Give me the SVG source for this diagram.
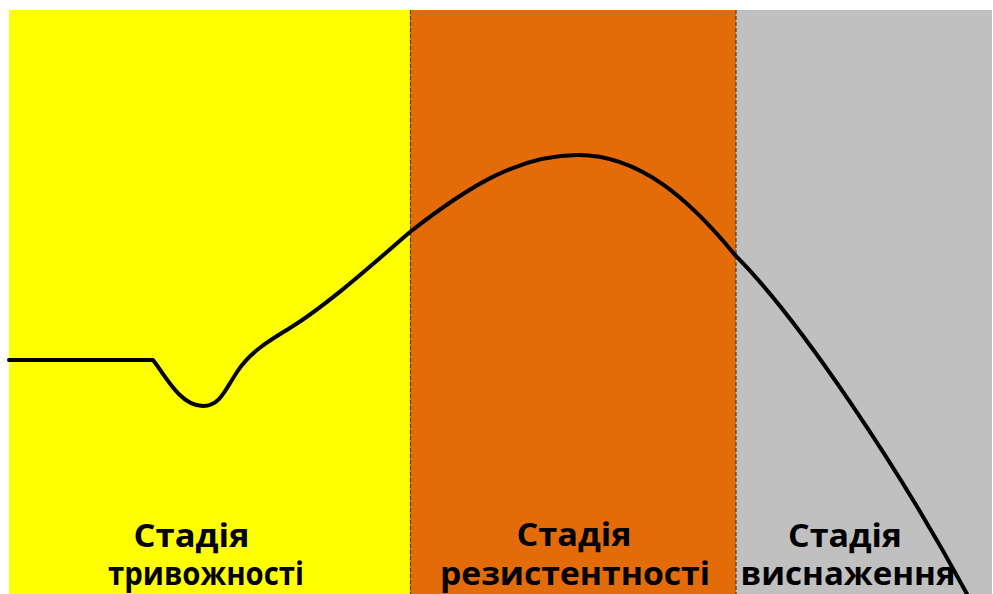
<svg xmlns="http://www.w3.org/2000/svg" width="993" height="594" viewBox="0 0 993 594">
<style>
.lbl{font-family:"Open Sans","DejaVu Sans",sans-serif;font-weight:bold;font-size:32px;fill:#000;text-anchor:middle}
.sep{stroke:#5a3a1a;stroke-width:1.2;stroke-dasharray:4 2;fill:none}
.curve{fill:none;stroke:#000;stroke-width:4;stroke-linejoin:round;stroke-linecap:round}
</style>
<rect width="993" height="594" fill="#fff"/>
<g id="stage-alarm">
<rect x="9" y="10" width="401" height="584" fill="#ffff00"/>
<text class="lbl" x="191.5" y="547" textLength="116" lengthAdjust="spacingAndGlyphs">Стадія</text>
<text class="lbl" x="206" y="585" textLength="196" lengthAdjust="spacingAndGlyphs">тривожності</text>
</g>
<g id="stage-resistance">
<rect x="410" y="10" width="326" height="584" fill="#e36c09"/>
<text class="lbl" x="574" y="546" textLength="115" lengthAdjust="spacingAndGlyphs">Стадія</text>
<text class="lbl" x="575" y="585" textLength="270" lengthAdjust="spacingAndGlyphs">резистентності</text>
</g>
<g id="stage-exhaustion">
<rect x="736" y="10" width="256" height="584" fill="#c0c0c0"/>
<text class="lbl" x="845" y="547" textLength="114" lengthAdjust="spacingAndGlyphs">Стадія</text>
<text class="lbl" x="848" y="585" textLength="215" lengthAdjust="spacingAndGlyphs">виснаження</text>
</g>
<g id="connectors">
<line class="sep" x1="410.5" y1="10" x2="410.5" y2="594"/>
<line class="sep" x1="736" y1="10" x2="736" y2="594"/>
<path class="curve" d="M 9 360 L 153 360 C 165 375, 180 406, 203 406 C 220 406, 225 390, 237 372 C 250 352, 270 340, 290 328 C 330 303, 375 262, 410 232 C 470 185, 520 155, 578 155 C 640 155, 690 200, 735 255 C 800 320, 900 470, 967 594"/>
</g>
</svg>
